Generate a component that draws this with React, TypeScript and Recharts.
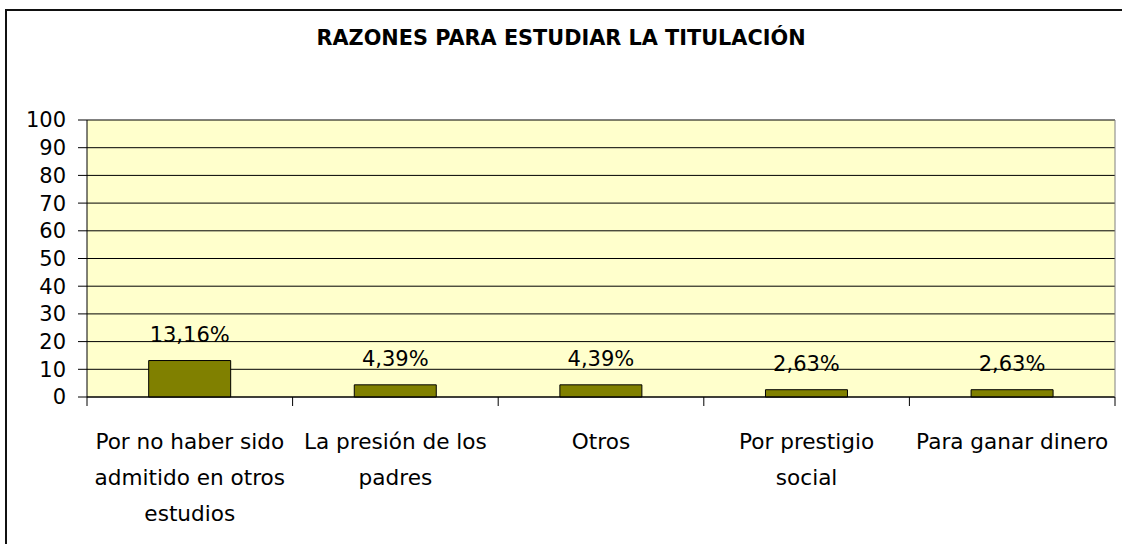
import React from 'react';
import { BarChart, Bar, XAxis, YAxis, CartesianGrid, LabelList } from 'recharts';

const title = 'RAZONES PARA ESTUDIAR LA TITULACIÓN';
const categories = [
  'Por no haber sido\nadmitido en otros\nestudios',
  'La presión de los\npadres',
  'Otros',
  'Por prestigio\nsocial',
  'Para ganar dinero',
];
const values = [13.16, 4.39, 4.39, 2.63, 2.63];
const yTicks = [0, 10, 20, 30, 40, 50, 60, 70, 80, 90, 100];

const data = categories.map((c, i) => ({ name: c, value: values[i] }));

const FONT = 'DejaVu Sans';

const CatTick = (props: any) => {
  const { x, y, payload, width, visibleTicksCount, index } = props;
  const lines = String(payload.value).split('\n');
  const half =
    width && visibleTicksCount ? width / visibleTicksCount / 2 : payload.offset || 0;
  return (
    <g>
      <line x1={x - half} x2={x - half} y1={y} y2={y + 9} stroke="#000" />
      {index === visibleTicksCount - 1 && (
        <line x1={x + half} x2={x + half} y1={y} y2={y + 9} stroke="#000" />
      )}
      <text x={x} y={y} textAnchor="middle" fontSize={21.6} fill="#000" fontFamily={FONT}>
        {lines.map((l, i) => (
          <tspan key={i} x={x} dy={i === 0 ? 52 : 36}>
            {l}
          </tspan>
        ))}
      </text>
    </g>
  );
};

const fmt = (v: any) => Number(v).toFixed(2).replace('.', ',') + '%';

export default function App() {
  return (
    <div
      style={{
        position: 'absolute',
        left: 0,
        top: 0,
        width: 1122,
        height: 544,
        overflow: 'hidden',
        background: '#fff',
      }}
    >
      <div
        style={{
          position: 'absolute',
          left: 5,
          top: 9,
          width: 1300,
          height: 700,
          borderLeft: '2px solid #111',
          borderTop: '2px solid #111',
        }}
      />
      <svg width={1122} height={80} style={{ position: 'absolute', left: 0, top: 0 }}>
        <text x={561} y={45} textAnchor="middle" fontFamily={FONT} fontWeight="bold" fontSize={20.8} fill="#000">
          {title}
        </text>
      </svg>
      <div style={{ position: 'absolute', left: 0, top: 0 }}>
        <BarChart
          width={1122}
          height={544}
          data={data}
          margin={{ top: 120, right: 6, bottom: 0, left: 0 }}
          barCategoryGap="30%"
        >
          <CartesianGrid vertical={false} stroke="#000" fill="#FFFFCC" fillOpacity={1} />
          <XAxis
            dataKey="name"
            height={147}
            axisLine={{ stroke: '#000' }}
            tickLine={false}
            tickSize={0}
            tickMargin={0}
            interval={0}
            tick={<CatTick />}
          />
          <YAxis
            domain={[0, 100]}
            ticks={yTicks}
            interval={0}
            width={87}
            tickSize={9}
            tickMargin={12}
            axisLine={{ stroke: '#000' }}
            tickLine={{ stroke: '#000' }}
            tick={{ fontSize: 21, fill: '#000', fontFamily: FONT }}
          />
          <YAxis
            yAxisId="r"
            orientation="right"
            domain={[0, 100]}
            width={1}
            tick={false}
            tickLine={false}
            axisLine={{ stroke: '#808080' }}
          />
          <Bar dataKey="value" fill="#808000" stroke="#000" strokeWidth={1} isAnimationActive={false}>
            <LabelList
              dataKey="value"
              position="top"
              offset={19}
              formatter={fmt}
              fontSize={21}
              fill="#000"
              fontFamily={FONT}
            />
          </Bar>
        </BarChart>
      </div>
    </div>
  );
}
